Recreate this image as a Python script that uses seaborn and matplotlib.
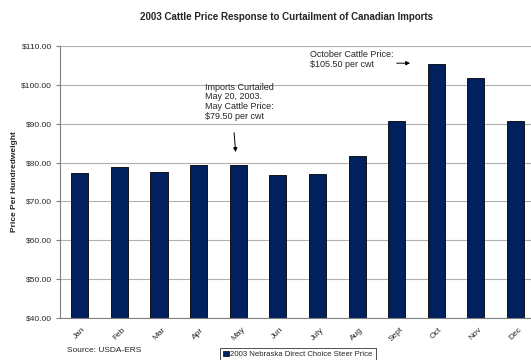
import matplotlib
matplotlib.use("Agg")
import matplotlib.pyplot as plt
import seaborn as sns
import pandas as pd
from matplotlib.patches import Rectangle

months = ["Jan", "Feb", "Mar", "Apr", "May", "Jun", "July", "Aug", "Sept", "Oct", "Nov", "Dec"]
prices = [77.3, 78.8, 77.6, 79.3, 79.5, 76.8, 77.0, 81.8, 90.6, 105.5, 101.8, 90.7]
yticks = [40, 50, 60, 70, 80, 90, 100, 110]
series_name = "2003 Nebraska Direct Choice Steer Price"

df = pd.DataFrame({"month": months, "price": prices})

sns.set_theme(style="white")
plt.rcParams["font.family"] = ["Liberation Sans", "DejaVu Sans"]

fig = plt.figure(figsize=(5.31, 3.6), dpi=100)
ax = fig.add_axes([0.113, 0.117, 0.895, 0.755])

sns.barplot(data=df, x="month", y="price", color="#00215E", edgecolor="black",
            linewidth=0.6, width=0.43, saturation=1, ax=ax)

ax.set_ylim(40, 110)
ax.set_xlim(-0.5, 11.5)
ax.set_yticks(yticks)
ax.set_yticklabels([f"${v:.2f}" for v in yticks], fontsize=6)
ax.yaxis.grid(True, color="#b0b0b0", linewidth=0.8)
ax.set_axisbelow(True)
ax.set_xlabel("")
ax.set_ylabel("Price Per Hundredweight", fontsize=6, fontweight="bold", labelpad=2)

ax.set_xticks(range(12))
ax.set_xticklabels(months, rotation=45, fontsize=6, ha="center")
ax.tick_params(axis="x", length=0, pad=6)
ax.set_xticks([i - 0.5 for i in range(13)], minor=True)
ax.tick_params(axis="x", which="minor", length=3, color="#808080", width=0.8)
ax.tick_params(axis="y", length=3, color="#808080", width=0.8, left=True, pad=3)

for s in ["top", "right"]:
    ax.spines[s].set_visible(False)
for s in ["left", "bottom"]:
    ax.spines[s].set_color("#808080")
    ax.spines[s].set_linewidth(0.8)

fig.text(0.54, 0.953, "2003 Cattle Price Response to Curtailment of Canadian Imports",
         ha="center", va="center", fontsize=7, fontweight="bold")

ax.annotate("", xy=(3.94, 82.0), xytext=(3.89, 88.4),
            arrowprops=dict(arrowstyle="-|>", color="black", lw=0.7, mutation_scale=6))
ax.text(3.16, 100.6, "Imports Curtailed\nMay 20, 2003.\nMay Cattle Price:\n$79.50 per cwt",
        fontsize=6.5, va="top", ha="left", linespacing=1.1)

ax.annotate("", xy=(8.41, 105.6), xytext=(7.93, 105.6),
            arrowprops=dict(arrowstyle="-|>", color="black", lw=0.7, mutation_scale=6))
ax.text(5.82, 109.0, "October Cattle Price:\n$105.50 per cwt",
        fontsize=6.5, va="top", ha="left", linespacing=1.1)

fig.text(0.126, 0.025, "Source: USDA-ERS", fontsize=6, va="center", ha="left")

leg = ax.legend([Rectangle((0, 0), 1, 1, facecolor="#00215E", edgecolor="black", linewidth=0.5)],
                [series_name], loc="center", fontsize=5.6, frameon=True, fancybox=False,
                handlelength=0.7, handleheight=0.7, handletextpad=0.2, borderpad=0.4)
leg.get_frame().set_edgecolor("black")
leg.get_frame().set_linewidth(0.6)
leg.set_bbox_to_anchor((0.561, 0.015), transform=fig.transFigure)

fig.savefig("out.png", dpi=100)
